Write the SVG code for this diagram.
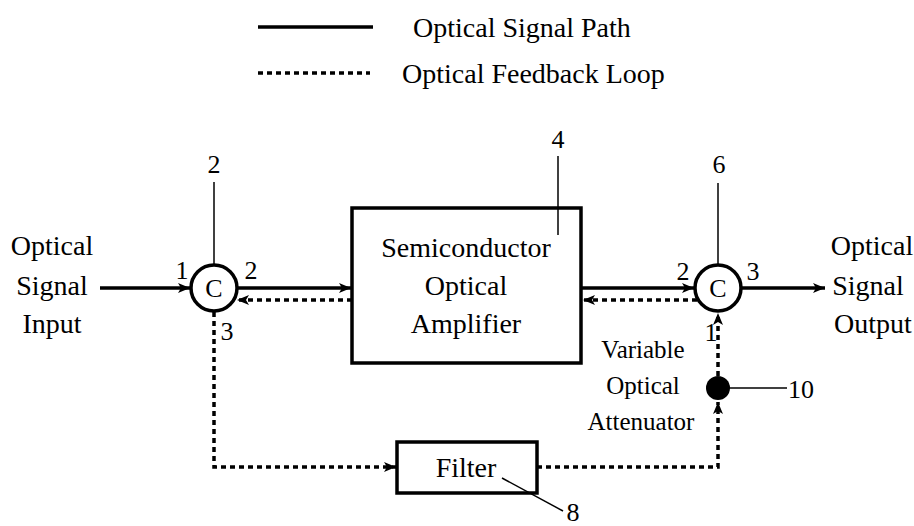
<svg xmlns="http://www.w3.org/2000/svg" width="914" height="526" viewBox="0 0 914 526" font-family="Liberation Serif, Tinos, DejaVu Serif, serif">
<style>
text{fill:#000;}
.t{font-size:28px;text-anchor:middle;}
.n{font-size:26px;}
.box{fill:#fff;stroke:#000;stroke-width:3.5;}
.sol{fill:none;stroke:#000;stroke-width:3.5;}
.dsh{fill:none;stroke:#000;stroke-width:3.5;stroke-dasharray:5 4;}
.thin{fill:none;stroke:#000;stroke-width:1.5;}
</style>
<defs>
<marker id="ah" viewBox="0 0 12 10" refX="12" refY="5" markerWidth="12" markerHeight="10" markerUnits="userSpaceOnUse" orient="auto">
<path d="M0,0 L12,5 L0,10 L3,5 Z" fill="#000"/>
</marker>
</defs>
<g id="legend">
<line x1="258" y1="27" x2="373" y2="27" class="sol"/>
<text x="413" y="37" font-size="28">Optical Signal Path</text>
<line x1="258" y1="73" x2="370" y2="73" class="dsh"/>
<text x="402" y="83" font-size="28">Optical Feedback Loop</text>
</g>
<g id="connectors">
<line x1="100" y1="288" x2="190" y2="288" class="sol" marker-end="url(#ah)"/>
<line x1="238" y1="288" x2="351" y2="288" class="sol" marker-end="url(#ah)"/>
<line x1="352" y1="300" x2="237" y2="300" class="dsh" marker-end="url(#ah)"/>
<line x1="582" y1="288" x2="694" y2="288" class="sol" marker-end="url(#ah)"/>
<line x1="697" y1="300" x2="583" y2="300" class="dsh" marker-end="url(#ah)"/>
<line x1="742" y1="288" x2="825" y2="288" class="sol" marker-end="url(#ah)"/>
<polyline points="214,312 214,467 396,467" class="dsh" marker-end="url(#ah)"/>
<polyline points="537,467 718,467 718,402" class="dsh" marker-end="url(#ah)"/>
<line x1="718" y1="376" x2="718" y2="313" class="dsh" marker-end="url(#ah)"/>
</g>
<g id="input-label">
<text class="t" x="52" y="255">Optical</text>
<text class="t" x="52" y="295">Signal</text>
<text class="t" x="52" y="333">Input</text>
</g>
<g id="circulator-2">
<line x1="214" y1="182" x2="214" y2="268" class="thin"/>
<text class="n" x="214" y="173" text-anchor="middle">2</text>
<circle cx="214" cy="288" r="23" class="box"/>
<text x="214" y="297" font-size="26" text-anchor="middle">C</text>
<text class="n" x="182" y="279" text-anchor="middle">1</text>
<text class="n" x="251" y="279" text-anchor="middle">2</text>
<text class="n" x="227" y="340" text-anchor="middle">3</text>
</g>
<g id="soa-4">
<rect x="352" y="208" width="229" height="155" class="box"/>
<text class="t" x="466" y="257">Semiconductor</text>
<text class="t" x="466" y="295">Optical</text>
<text class="t" x="466" y="333">Amplifier</text>
<line x1="558" y1="156" x2="558" y2="235" class="thin"/>
<text class="n" x="558" y="148" text-anchor="middle">4</text>
</g>
<g id="circulator-6">
<line x1="718" y1="183" x2="718" y2="270" class="thin"/>
<text class="n" x="719" y="173" text-anchor="middle">6</text>
<circle cx="718" cy="288" r="23" class="box"/>
<text x="718" y="297" font-size="26" text-anchor="middle">C</text>
<text class="n" x="683" y="280" text-anchor="middle">2</text>
<text class="n" x="753" y="280" text-anchor="middle">3</text>
<text class="n" x="711" y="341" text-anchor="middle">1</text>
</g>
<g id="output-label">
<text class="t" x="872" y="255">Optical</text>
<text class="t" x="868" y="295">Signal</text>
<text class="t" x="873" y="333">Output</text>
</g>
<g id="voa-10">
<circle cx="718" cy="388" r="12" fill="#000"/>
<line x1="718" y1="388" x2="787" y2="388" class="thin"/>
<text class="n" x="788" y="398">10</text>
<text x="643" y="358" font-size="25" text-anchor="middle">Variable</text>
<text x="643" y="394" font-size="25" text-anchor="middle">Optical</text>
<text x="641" y="430" font-size="25" text-anchor="middle">Attenuator</text>
</g>
<g id="filter-8">
<rect x="397" y="442" width="140" height="51" class="box"/>
<text class="t" x="466" y="477">Filter</text>
<line x1="502" y1="478" x2="563" y2="511" class="thin"/>
<text class="n" x="573" y="521" text-anchor="middle">8</text>
</g>
</svg>
